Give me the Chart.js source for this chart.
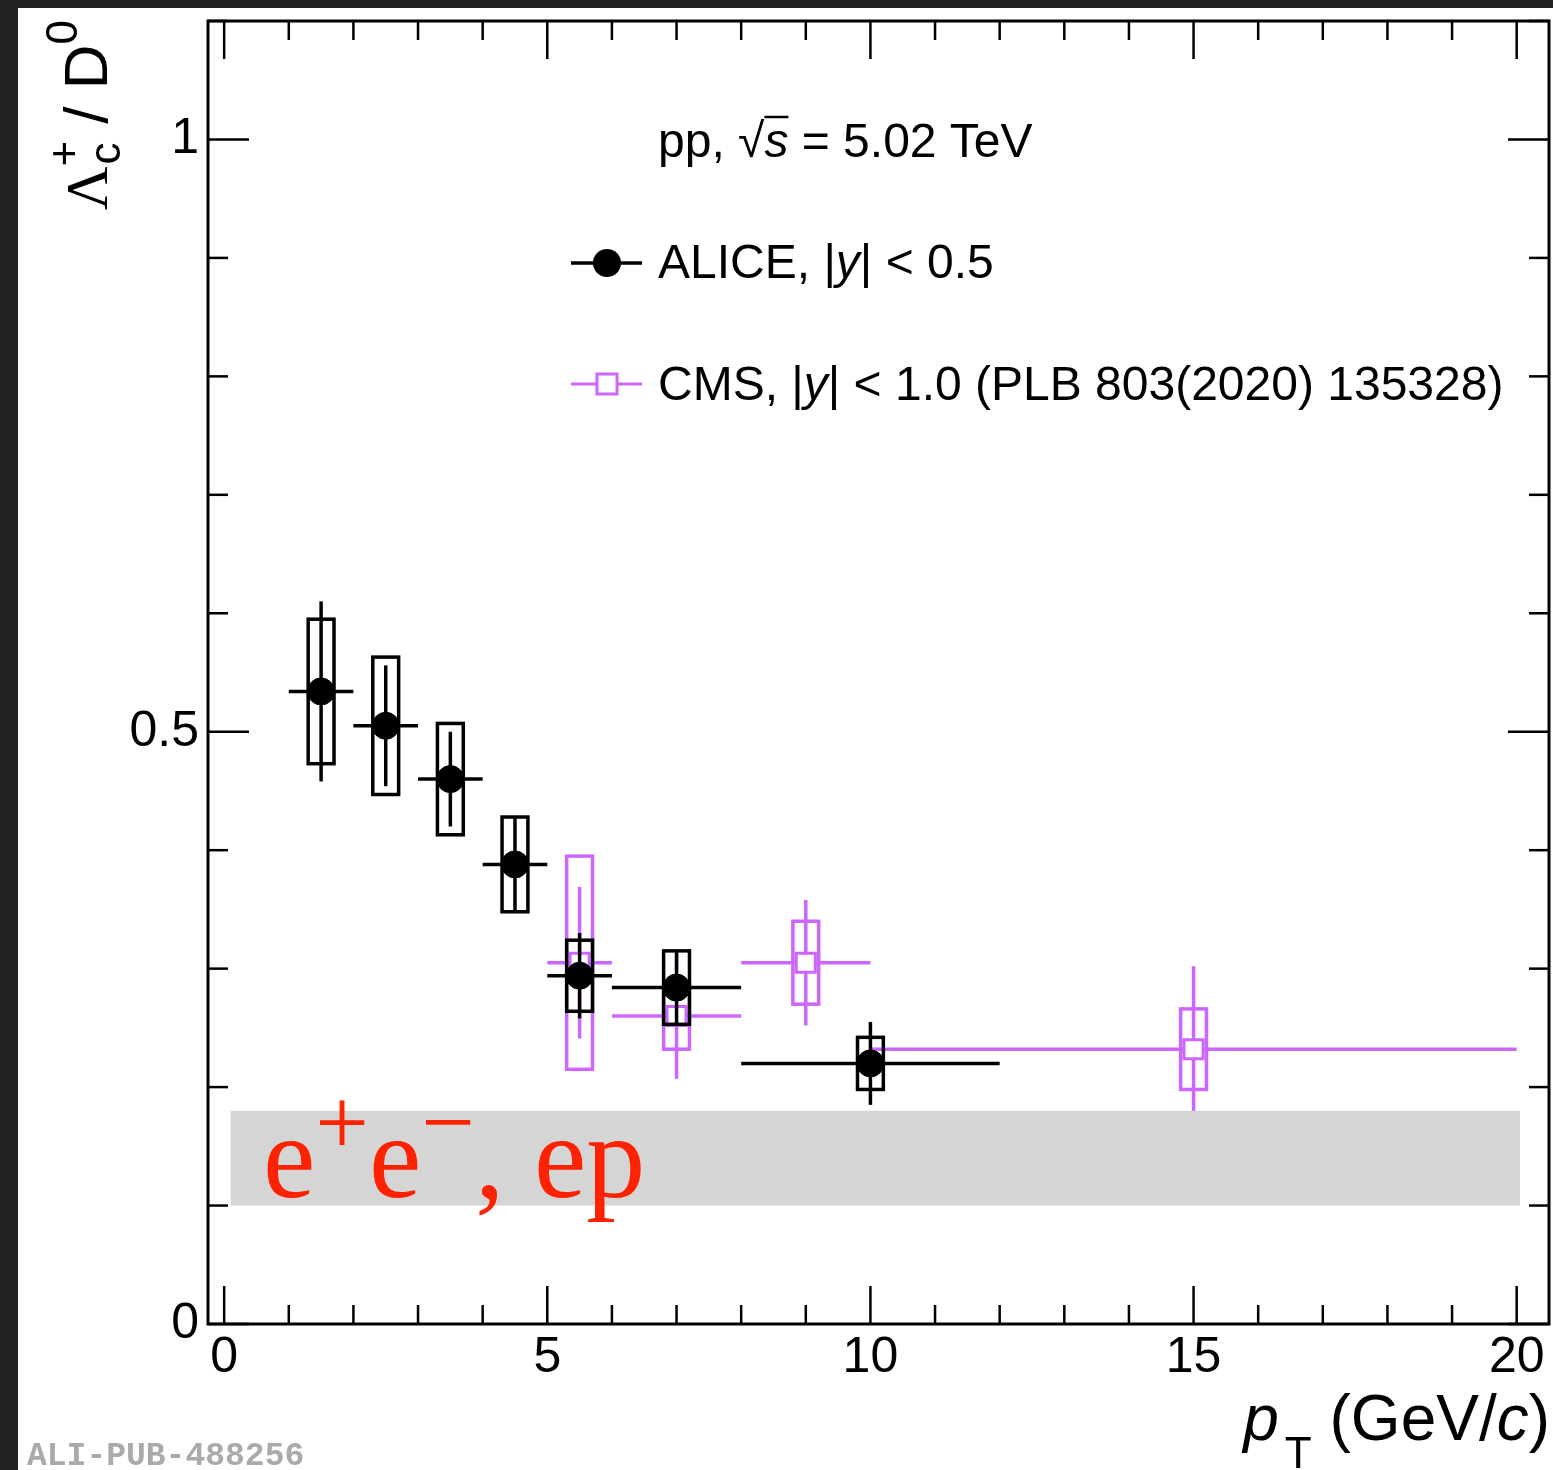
<!DOCTYPE html>
<html>
<head>
<meta charset="utf-8">
<script src="https://cdn.jsdelivr.net/npm/chart.js@4.4.1/dist/chart.umd.min.js"></script>
<style>
  html, body { margin: 0; padding: 0; background: #222; }
  #wrap { position: absolute; left: 18px; top: 8px; width: 1535px; height: 1462px; background: #fff; }
</style>
</head>
<body>
<div id="wrap"><canvas id="c" width="1535" height="1462"></canvas></div>
<script>
// ALICE Lc/D0, pp 5.02 TeV
const aliceX    = [1.5, 2.5, 3.5, 4.5, 5.5, 7, 10];
const aliceXLo  = [1, 2, 3, 4, 5, 6, 8];
const aliceXHi  = [2, 3, 4, 5, 6, 8, 12];
const aliceY    = [0.534, 0.505, 0.460, 0.388, 0.294, 0.284, 0.220];
const aliceStat = [0.076, 0.051, 0.040, 0.039, 0.036, 0.030, 0.035];
const aliceSyst = [0.061, 0.058, 0.047, 0.040, 0.030, 0.031, 0.022];

// CMS |y| < 1.0
const cmsX    = [5.5, 7, 9, 15];
const cmsXLo  = [5, 6, 8, 10];
const cmsXHi  = [6, 8, 10, 20];
const cmsY    = [0.305, 0.260, 0.305, 0.232];
const cmsStat = [0.064, 0.053, 0.053, 0.070];
const cmsSyst = [0.090, 0.028, 0.035, 0.034];

// e+e-, ep band
const bandX = [0.1, 20.05];
const bandY = [0.1, 0.18];

const xTickLabels = ['0', '5', '10', '15', '20'];
const yTickLabels = ['0', '0.5', '1'];

const VIOLET = '#cc66ff';
const SANS = '"Liberation Sans", Arial, Helvetica, sans-serif';
const SERIF = '"Liberation Serif", "Times New Roman", serif';
const BOXW = 0.2; // half width of syst boxes, in GeV/c

function line(ctx, x1, y1, x2, y2) {
  ctx.beginPath(); ctx.moveTo(x1, y1); ctx.lineTo(x2, y2); ctx.stroke();
}

// draws a run of text pieces, returns total width
function runText(ctx, parts, x, y, draw) {
  let cx = x;
  for (const p of parts) {
    ctx.font = p.font;
    const w = ctx.measureText(p.t).width;
    if (draw) {
      ctx.fillText(p.t, cx, y + (p.dy || 0));
      if (p.bar) line(ctx, cx, y + p.bar, cx + w, y + p.bar);
    }
    cx += w + (p.gap || 0);
  }
  return cx - x;
}

function drawErrors(ctx, xs, ys, xlo, xhi, stat, syst, sx, sy, color) {
  ctx.save();
  ctx.strokeStyle = color;
  ctx.lineWidth = 3.5;
  for (let i = 0; i < xs.length; i++) {
    const px = sx.getPixelForValue(xs[i]);
    const py = sy.getPixelForValue(ys[i]);
    const bl = sx.getPixelForValue(xs[i] - BOXW), br = sx.getPixelForValue(xs[i] + BOXW);
    const bt = sy.getPixelForValue(ys[i] + syst[i]), bb = sy.getPixelForValue(ys[i] - syst[i]);
    ctx.strokeRect(bl, bt, br - bl, bb - bt);
    line(ctx, px, sy.getPixelForValue(ys[i] + stat[i]), px, sy.getPixelForValue(ys[i] - stat[i]));
    line(ctx, sx.getPixelForValue(xlo[i]), py, sx.getPixelForValue(xhi[i]), py);
  }
  ctx.restore();
}

const rootStyle = {
  id: 'rootStyle',
  beforeDatasetDraw(chart, args) {
    const { ctx, scales: { x, y } } = chart;
    if (args.index === 0) drawErrors(ctx, aliceX, aliceY, aliceXLo, aliceXHi, aliceStat, aliceSyst, x, y, '#000');
    else drawErrors(ctx, cmsX, cmsY, cmsXLo, cmsXHi, cmsStat, cmsSyst, x, y, VIOLET);
  },
  afterDatasetsDraw(chart) {
    const { ctx, scales: { x, y } } = chart;
    ctx.save();
    const l = x.getPixelForValue(bandX[0]), r = x.getPixelForValue(bandX[1]);
    const t = y.getPixelForValue(bandY[1]), b = y.getPixelForValue(bandY[0]);
    ctx.fillStyle = '#d5d5d5';
    ctx.fillRect(l, t, r - l, b - t);
    ctx.fillStyle = '#ff2200';
    ctx.textBaseline = 'alphabetic';
    runText(ctx, [
      { t: 'e', font: `118px ${SERIF}` },
      { t: '+', font: `95px ${SERIF}`, dy: -43 },
      { t: 'e', font: `118px ${SERIF}` },
      { t: '\u2212', font: `95px ${SERIF}`, dy: -43 },
      { t: ', ep', font: `118px ${SERIF}` }
    ], 245, 1189, true);
    ctx.restore();
  },
  afterDraw(chart) {
    const { ctx, chartArea: a, scales: { x, y } } = chart;
    ctx.save();
    ctx.strokeStyle = '#000';
    ctx.lineWidth = 2.5;
    // inward ticks on all four sides
    x.ticks.forEach(tk => {
      const v = tk.value;
      if (Math.abs(v - Math.round(v)) > 1e-6) return;
      const len = Math.round(v) % 5 === 0 ? 38 : 19;
      const p = x.getPixelForValue(v);
      line(ctx, p, a.bottom, p, a.bottom - len);
      line(ctx, p, a.top, p, a.top + len);
    });
    y.ticks.forEach(tk => {
      const k = tk.value * 10;
      if (Math.abs(k - Math.round(k)) > 1e-6) return;
      const len = Math.round(k) % 5 === 0 ? 41 : 20;
      const p = y.getPixelForValue(tk.value);
      line(ctx, a.left, p, a.left + len, p);
      line(ctx, a.right, p, a.right - len, p);
    });
    ctx.lineWidth = 3;
    ctx.strokeRect(a.left, a.top, a.right - a.left, a.bottom - a.top);

    ctx.fillStyle = '#000';
    ctx.textBaseline = 'alphabetic';

    // x title, right aligned
    const xt = [
      { t: 'p', font: `italic 64px ${SANS}`, gap: 6 },
      { t: 'T', font: `44px ${SANS}`, dy: 28 },
      { t: ' (GeV/', font: `64px ${SANS}` },
      { t: 'c', font: `italic 64px ${SANS}` },
      { t: ')', font: `64px ${SANS}` }
    ];
    const xw = runText(ctx, xt, 0, 0, false);
    runText(ctx, xt, 1532 - xw, 1432, true);

    // y title, rotated, right aligned at top
    ctx.save();
    ctx.font = `44px ${SANS}`;
    const subW = Math.max(ctx.measureText('c').width, ctx.measureText('+').width);
    const yt1 = [{ t: '\u039B', font: `60px ${SERIF}` }];
    const yt2 = [{ t: ' / D', font: `62px ${SANS}` }, { t: '0', font: `44px ${SANS}`, dy: -30 }];
    const w1 = runText(ctx, yt1, 0, 0, false);
    const w2 = runText(ctx, yt2, 0, 0, false);
    const total = w1 + subW + w2;
    ctx.translate(89, 12 + total);
    ctx.rotate(-Math.PI / 2);
    runText(ctx, yt1, 0, 0, true);
    ctx.font = `44px ${SANS}`;
    ctx.fillText('c', w1 + 2, 13);
    ctx.fillText('+', w1, -28);
    runText(ctx, yt2, w1 + subW, 0, true);
    ctx.restore();

    // header and legend
    ctx.lineWidth = 2.5;
    runText(ctx, [
      { t: 'pp, ', font: `48px ${SANS}` },
      { t: '\u221A', font: `48px ${SANS}` },
      { t: 's', font: `italic 48px ${SANS}`, bar: -40 },
      { t: ' = 5.02 TeV', font: `48px ${SANS}` }
    ], 640, 149, true);

    ctx.lineWidth = 3.5;
    ctx.strokeStyle = '#000';
    line(ctx, 553, 255, 624, 255);
    ctx.beginPath(); ctx.arc(589, 255, 14, 0, Math.PI * 2); ctx.fill();
    runText(ctx, [
      { t: 'ALICE, |', font: `48px ${SANS}` },
      { t: 'y', font: `italic 48px ${SANS}` },
      { t: '| < 0.5', font: `48px ${SANS}` }
    ], 640, 270, true);

    ctx.lineWidth = 3;
    ctx.strokeStyle = VIOLET;
    line(ctx, 553, 376, 624, 376);
    ctx.fillStyle = '#fff';
    ctx.fillRect(579, 366, 20, 20);
    ctx.strokeRect(579, 366, 20, 20);
    ctx.fillStyle = '#000';
    runText(ctx, [
      { t: 'CMS, |', font: `48px ${SANS}` },
      { t: 'y', font: `italic 48px ${SANS}` },
      { t: '| < 1.0 (PLB 803(2020) 135328)', font: `48px ${SANS}` }
    ], 640, 392, true);

    ctx.fillStyle = '#aaaaaa';
    ctx.font = `bold 33px "Liberation Mono", "Courier New", monospace`;
    ctx.fillText('ALI-PUB-488256', 9, 1457);
    ctx.restore();
  }
};

const ctx = document.getElementById('c').getContext('2d');
new Chart(ctx, {
  type: 'scatter',
  data: {
    datasets: [
      {
        label: 'ALICE, |y| < 0.5',
        data: aliceX.map((v, i) => ({ x: v, y: aliceY[i] })),
        pointStyle: 'circle', pointRadius: 13.5,
        backgroundColor: '#000', borderColor: '#000', borderWidth: 1
      },
      {
        label: 'CMS, |y| < 1.0',
        data: cmsX.map((v, i) => ({ x: v, y: cmsY[i] })),
        pointStyle: 'rect', pointRadius: 13.5,
        backgroundColor: '#fff', borderColor: VIOLET, borderWidth: 3
      }
    ]
  },
  options: {
    responsive: false,
    animation: false,
    events: [],
    layout: { autoPadding: false, padding: { left: 0, right: 4, top: 13, bottom: 76 } },
    plugins: { legend: { display: false }, tooltip: { enabled: false } },
    scales: {
      x: {
        type: 'linear', min: -0.25, max: 20.5,
        grid: { display: false, drawTicks: false }, border: { display: false },
        afterFit(s) { s.height = 70; s.paddingLeft = 0; s.paddingRight = 0; s.paddingTop = 0; s.paddingBottom = 0; },
        ticks: {
          stepSize: 1, autoSkip: false, includeBounds: false, maxRotation: 0, maxTicksLimit: 100, padding: 4,
          color: '#000', font: { family: SANS, size: 50 },
          callback: v => {
            const r = Math.round(v);
            return (Math.abs(v - r) < 1e-6 && r % 5 === 0) ? xTickLabels[r / 5] : '';
          }
        }
      },
      y: {
        type: 'linear', min: 0, max: 1.1,
        grid: { display: false, drawTicks: false }, border: { display: false },
        afterFit(s) { s.width = 190; s.paddingLeft = 0; s.paddingRight = 0; s.paddingTop = 0; s.paddingBottom = 0; },
        ticks: {
          stepSize: 0.1, autoSkip: false, includeBounds: false, maxTicksLimit: 100, padding: 9,
          color: '#000', font: { family: SANS, size: 50 },
          callback: v => {
            const r = Math.round(v * 2);
            return Math.abs(v * 2 - r) < 1e-6 ? yTickLabels[r] : '';
          }
        }
      }
    }
  },
  plugins: [rootStyle]
});
</script>
</body>
</html>
